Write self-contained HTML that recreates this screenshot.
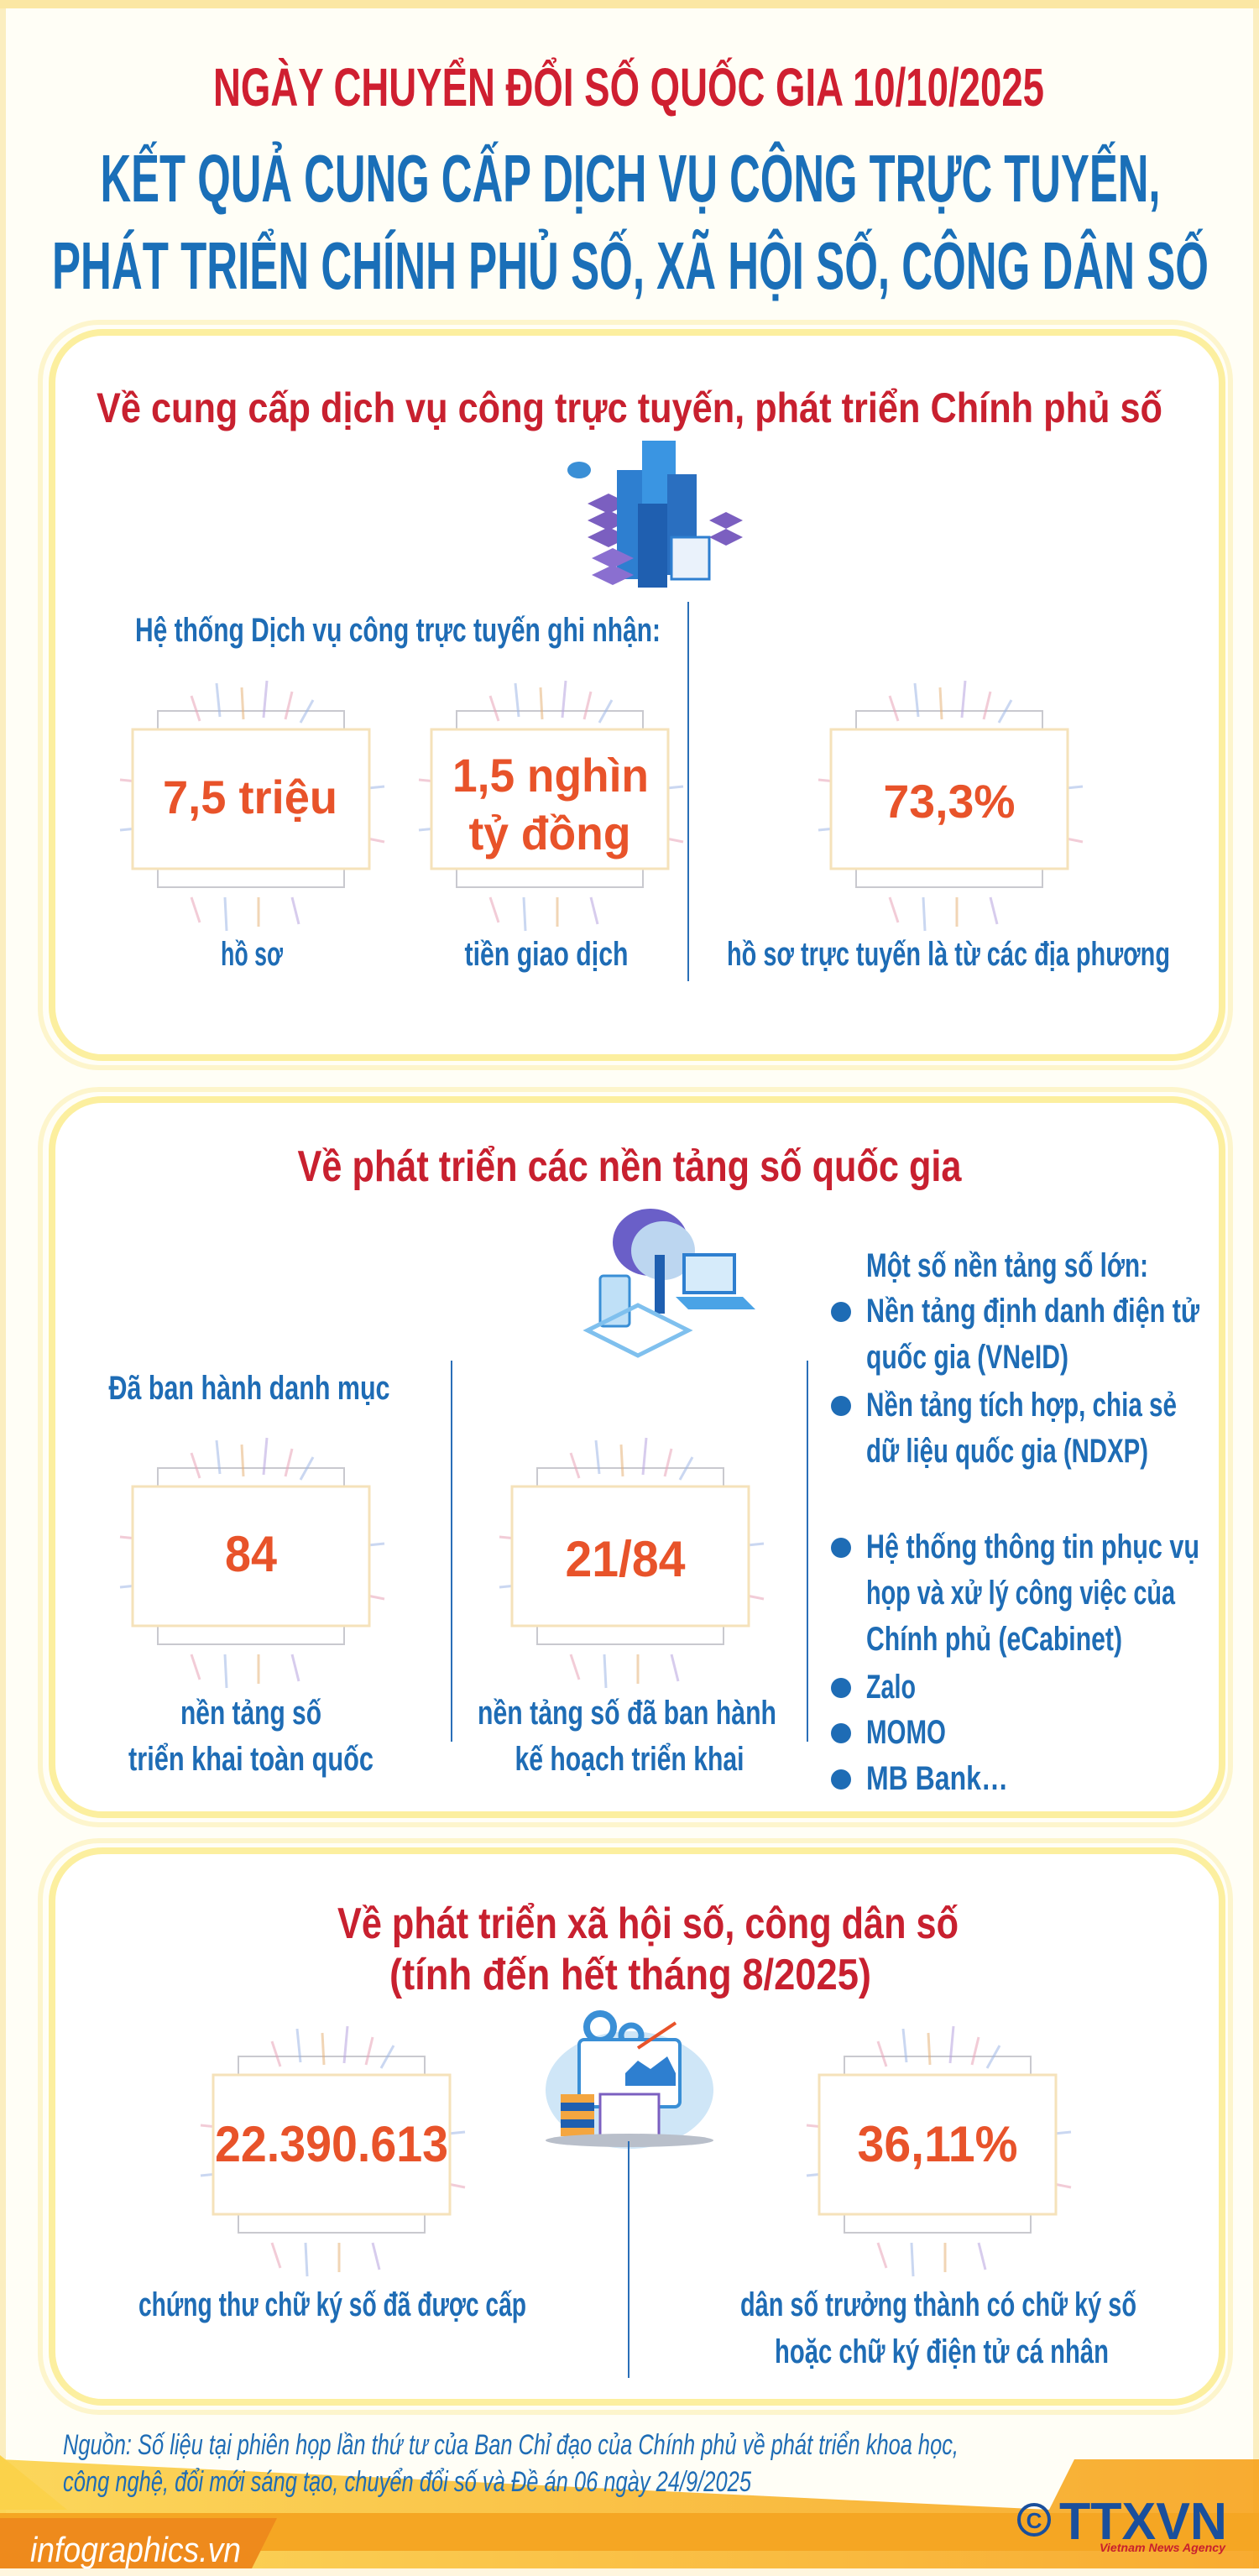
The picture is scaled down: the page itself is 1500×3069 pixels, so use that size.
<!DOCTYPE html>
<html><head><meta charset="utf-8"><style>
html,body{margin:0;padding:0;background:#fffef6;}
svg{display:block}
text{font-family:"Liberation Sans",sans-serif;font-weight:bold;}
</style></head><body>
<svg width="1500" height="3069" viewBox="0 0 1500 3069" xmlns="http://www.w3.org/2000/svg">
<defs>
<linearGradient id="ft" x1="0" y1="0" x2="1" y2="0"><stop offset="0" stop-color="#fbd24a"/><stop offset="1" stop-color="#f7a21b"/></linearGradient>
<g id="box">
 <rect x="30" y="-22" width="222" height="210" fill="none" stroke="#c9c9cf" stroke-width="2"/>
 <g stroke-width="3" opacity="0.55">
  <line x1="70" y1="-40" x2="80" y2="-10" stroke="#e9a3b8"/><line x1="100" y1="-55" x2="104" y2="-15" stroke="#9fb7e6"/>
  <line x1="130" y1="-50" x2="132" y2="-12" stroke="#e7b37a"/><line x1="160" y1="-58" x2="156" y2="-14" stroke="#b7a3e0"/>
  <line x1="190" y1="-45" x2="182" y2="-12" stroke="#e9a3b8"/><line x1="215" y1="-35" x2="200" y2="-8" stroke="#9fb7e6"/>
  <line x1="70" y1="200" x2="80" y2="230" stroke="#e9a3b8"/><line x1="110" y1="200" x2="112" y2="240" stroke="#9fb7e6"/>
  <line x1="150" y1="200" x2="150" y2="235" stroke="#e7b37a"/><line x1="190" y1="200" x2="198" y2="232" stroke="#b7a3e0"/>
  <line x1="-15" y1="60" x2="5" y2="62" stroke="#e9a3b8"/><line x1="280" y1="70" x2="300" y2="68" stroke="#9fb7e6"/>
  <line x1="-15" y1="120" x2="5" y2="118" stroke="#9fb7e6"/><line x1="280" y1="130" x2="300" y2="134" stroke="#e9a3b8"/>
 </g>
 <rect x="0" y="0" width="282" height="166" fill="#fff" stroke="#f5e2ba" stroke-width="3"/>
</g>
</defs>
<rect x="0" y="0" width="1500" height="3069" fill="#fffef6"/>
<rect x="3" y="3" width="1494" height="3063" fill="none" stroke="#fbeec0" stroke-width="8"/>
<rect x="0" y="0" width="1500" height="10" fill="#fbe7a4"/>

<text x="749" y="126" text-anchor="middle" font-size="64" fill="#cf1f30" textLength="990" lengthAdjust="spacingAndGlyphs">NGÀY CHUYỂN ĐỔI SỐ QUỐC GIA 10/10/2025</text>
<text x="751" y="240" text-anchor="middle" font-size="80" fill="#1a6fb8" textLength="1263" lengthAdjust="spacingAndGlyphs">KẾT QUẢ  CUNG CẤP DỊCH VỤ CÔNG TRỰC TUYẾN,</text>
<text x="751" y="344" text-anchor="middle" font-size="80" fill="#1a6fb8" textLength="1378" lengthAdjust="spacingAndGlyphs">PHÁT TRIỂN CHÍNH PHỦ SỐ, XÃ HỘI SỐ, CÔNG DÂN SỐ</text>

<g fill="#fff" stroke="#fcef9f" stroke-width="8">
 <rect x="62" y="396" width="1394" height="864" rx="60"/>
 <rect x="62" y="1310" width="1394" height="852" rx="60"/>
 <rect x="62" y="2205" width="1394" height="657" rx="60"/>
</g>
<g fill="none" stroke="#fdf5cc" stroke-width="6">
 <rect x="48" y="384" width="1418" height="888" rx="70"/>
 <rect x="48" y="1298" width="1418" height="876" rx="70"/>
 <rect x="48" y="2193" width="1418" height="681" rx="70"/>
</g>

<text x="750" y="503" text-anchor="middle" font-size="50" fill="#c8202f" textLength="1270" lengthAdjust="spacingAndGlyphs">Về cung cấp dịch vụ công trực tuyến, phát triển Chính phủ số</text>
<g>
 <ellipse cx="690" cy="560" rx="14" ry="10" fill="#3a8fd6"/>
 <path d="M700 600 l25 -12 l25 12 l-25 12z M700 620 l25 -12 l25 12 l-25 12z M700 640 l25 -12 l25 12 l-25 12z" fill="#7b5fc0"/>
 <rect x="735" y="560" width="40" height="130" fill="#2e7fd0"/>
 <rect x="765" y="525" width="40" height="160" fill="#3a95e2"/>
 <rect x="795" y="565" width="35" height="120" fill="#2a6fc0"/>
 <rect x="760" y="600" width="35" height="100" fill="#1f5fb0"/>
 <path d="M705 665 l25 -12 l25 12 l-25 12z M705 685 l25 -12 l25 12 l-25 12z" fill="#8a6fd0"/>
 <rect x="800" y="640" width="45" height="50" fill="#eaf2fb" stroke="#2e7fd0" stroke-width="3"/>
 <path d="M845 620 l20 -10 l20 10 l-20 10z M845 640 l20 -10 l20 10 l-20 10z" fill="#7b5fc0"/>
</g>
<text x="474" y="764" text-anchor="middle" font-size="40" fill="#1e6cb5" textLength="626" lengthAdjust="spacingAndGlyphs">Hệ thống Dịch vụ công trực tuyến ghi nhận:</text>
<line x1="820" y1="717" x2="820" y2="1169" stroke="#2a6fb8" stroke-width="2"/>
<use href="#box" x="158" y="869"/>
<use href="#box" x="514" y="869"/>
<use href="#box" x="990" y="869"/>
<text x="298" y="969" text-anchor="middle" font-size="56" fill="#e8532a" textLength="208" lengthAdjust="spacingAndGlyphs">7,5 triệu</text>
<text x="656" y="943" text-anchor="middle" font-size="56" fill="#e8532a" textLength="234" lengthAdjust="spacingAndGlyphs">1,5 nghìn</text>
<text x="655" y="1012" text-anchor="middle" font-size="56" fill="#e8532a" textLength="193" lengthAdjust="spacingAndGlyphs">tỷ đồng</text>
<text x="1131" y="974" text-anchor="middle" font-size="56" fill="#e8532a" textLength="157" lengthAdjust="spacingAndGlyphs">73,3%</text>
<g font-size="40" fill="#1e6cb5" text-anchor="middle">
<text x="300" y="1150" textLength="74" lengthAdjust="spacingAndGlyphs">hồ sơ</text>
<text x="651" y="1150" textLength="195" lengthAdjust="spacingAndGlyphs">tiền giao dịch</text>
<text x="1130" y="1150" textLength="528" lengthAdjust="spacingAndGlyphs">hồ sơ trực tuyến là từ các địa phương</text>
</g>

<text x="750" y="1407" text-anchor="middle" font-size="52" fill="#c8202f" textLength="791" lengthAdjust="spacingAndGlyphs">Về phát triển các nền tảng số quốc gia</text>
<g>
 <ellipse cx="775" cy="1480" rx="45" ry="40" fill="#6a5fc8"/>
 <ellipse cx="790" cy="1490" rx="38" ry="35" fill="#bcd6f0"/>
 <rect x="780" y="1495" width="12" height="70" fill="#1f5fb0"/>
 <rect x="715" y="1520" width="35" height="60" rx="4" fill="#bfe0f7" stroke="#3a8fd6" stroke-width="3"/>
 <rect x="815" y="1495" width="60" height="45" fill="#d6ebfa" stroke="#2e7fd0" stroke-width="4"/>
 <path d="M805 1545 l80 0 l15 15 l-80 0z" fill="#4aa3e6"/>
 <path d="M700 1585 l60 -30 l60 30 l-60 30z" fill="none" stroke="#7fc0ee" stroke-width="5"/>
</g>
<text x="1032" y="1521" font-size="40" fill="#1e6cb5" textLength="336" lengthAdjust="spacingAndGlyphs">Một số nền tảng số lớn:</text>
<g fill="#1e6cb5">
<circle cx="1002" cy="1563" r="12"/><circle cx="1002" cy="1675" r="12"/><circle cx="1002" cy="1844" r="12"/>
<circle cx="1002" cy="2011" r="12"/><circle cx="1002" cy="2065" r="12"/><circle cx="1002" cy="2120" r="12"/>
</g>
<g font-size="40" fill="#1e6cb5">
<text x="1032" y="1575" textLength="397" lengthAdjust="spacingAndGlyphs">Nền tảng định danh điện tử</text>
<text x="1032" y="1630" textLength="241" lengthAdjust="spacingAndGlyphs">quốc gia (VNeID)</text>
<text x="1032" y="1687" textLength="370" lengthAdjust="spacingAndGlyphs">Nền tảng tích hợp, chia sẻ</text>
<text x="1032" y="1742" textLength="336" lengthAdjust="spacingAndGlyphs">dữ liệu quốc gia (NDXP)</text>
<text x="1032" y="1856" textLength="397" lengthAdjust="spacingAndGlyphs">Hệ thống thông tin phục vụ</text>
<text x="1032" y="1911" textLength="368" lengthAdjust="spacingAndGlyphs">họp và xử lý công việc của</text>
<text x="1032" y="1966" textLength="305" lengthAdjust="spacingAndGlyphs">Chính phủ (eCabinet)</text>
<text x="1032" y="2023" textLength="59" lengthAdjust="spacingAndGlyphs">Zalo</text>
<text x="1032" y="2077" textLength="95" lengthAdjust="spacingAndGlyphs">MOMO</text>
<text x="1032" y="2132" textLength="169" lengthAdjust="spacingAndGlyphs">MB Bank…</text>
</g>
<text x="297" y="1667" text-anchor="middle" font-size="40" fill="#1e6cb5" textLength="335" lengthAdjust="spacingAndGlyphs">Đã ban hành danh mục</text>
<line x1="538" y1="1621" x2="538" y2="2075" stroke="#2a6fb8" stroke-width="2"/>
<line x1="962" y1="1621" x2="962" y2="2075" stroke="#2a6fb8" stroke-width="2"/>
<use href="#box" x="158" y="1771"/>
<use href="#box" x="610" y="1771"/>
<text x="299" y="1872" text-anchor="middle" font-size="60" fill="#e8532a" textLength="62" lengthAdjust="spacingAndGlyphs">84</text>
<text x="745" y="1878" text-anchor="middle" font-size="60" fill="#e8532a" textLength="143" lengthAdjust="spacingAndGlyphs">21/84</text>
<g font-size="40" fill="#1e6cb5" text-anchor="middle">
<text x="299" y="2054" textLength="168" lengthAdjust="spacingAndGlyphs">nền tảng số</text>
<text x="299" y="2109" textLength="292" lengthAdjust="spacingAndGlyphs">triển khai toàn quốc</text>
<text x="747" y="2054" textLength="356" lengthAdjust="spacingAndGlyphs">nền tảng số đã ban hành</text>
<text x="750" y="2109" textLength="273" lengthAdjust="spacingAndGlyphs">kế hoạch triển khai</text>
</g>

<text x="772" y="2309" text-anchor="middle" font-size="52" fill="#c8202f" textLength="740" lengthAdjust="spacingAndGlyphs">Về phát triển xã hội số, công dân số</text>
<text x="751" y="2370" text-anchor="middle" font-size="52" fill="#c8202f" textLength="574" lengthAdjust="spacingAndGlyphs">(tính đến hết tháng 8/2025)</text>
<g>
 <ellipse cx="750" cy="2490" rx="100" ry="70" fill="#cfe6f7"/>
 <circle cx="715" cy="2415" r="16" fill="none" stroke="#3a8fd6" stroke-width="8"/>
 <circle cx="752" cy="2425" r="12" fill="none" stroke="#3a8fd6" stroke-width="7"/>
 <rect x="690" y="2430" width="120" height="80" rx="6" fill="#fff" stroke="#3a8fd6" stroke-width="4"/>
 <path d="M745 2470 l15 -15 l15 10 l20 -15 l10 20 l0 15 l-60 0z" fill="#2e7fd0"/>
 <path d="M760 2440 l45 -30" stroke="#e8532a" stroke-width="4"/>
 <rect x="668" y="2495" width="40" height="50" fill="#f4a640"/>
 <rect x="668" y="2505" width="40" height="10" fill="#1f5fb0"/><rect x="668" y="2525" width="40" height="10" fill="#1f5fb0"/>
 <rect x="715" y="2495" width="70" height="50" fill="#fff" stroke="#7b5fc0" stroke-width="3"/>
 <ellipse cx="750" cy="2550" rx="100" ry="8" fill="#b9bfca"/>
</g>
<line x1="749" y1="2551" x2="749" y2="2833" stroke="#2a6fb8" stroke-width="2"/>
<use href="#box" x="254" y="2472"/>
<use href="#box" x="976" y="2472"/>
<text x="395" y="2575" text-anchor="middle" font-size="60" fill="#e8532a" textLength="278" lengthAdjust="spacingAndGlyphs">22.390.613</text>
<text x="1117" y="2575" text-anchor="middle" font-size="60" fill="#e8532a" textLength="191" lengthAdjust="spacingAndGlyphs">36,11%</text>
<g font-size="40" fill="#1e6cb5" text-anchor="middle">
<text x="396" y="2759" textLength="462" lengthAdjust="spacingAndGlyphs">chứng thư chữ ký số đã được cấp</text>
<text x="1118" y="2759" textLength="472" lengthAdjust="spacingAndGlyphs">dân số trưởng thành có chữ ký số</text>
<text x="1122" y="2815" textLength="398" lengthAdjust="spacingAndGlyphs">hoặc chữ ký điện tử cá nhân</text>
</g>

<path d="M0 2930 L1250 2990 L1280 2930 L1500 2930 L1500 3069 L0 3069 Z" fill="url(#ft)" opacity="0.9"/>
<path d="M0 2925 L80 2990 L0 2990Z" fill="#fbd24a"/>
<rect x="0" y="2994" width="1500" height="45" fill="#f5a623"/>
<path d="M0 3000 L330 3000 L300 3060 L0 3060Z" fill="#ee8a1c"/>
<rect x="0" y="3060" width="1500" height="9" fill="#fff6de"/>
<g font-size="34" fill="#1e6cb5" font-style="italic">
<text x="75" y="2924" style="font-weight:normal" textLength="1067" lengthAdjust="spacingAndGlyphs">Nguồn: Số liệu tại phiên họp lần thứ tư của Ban Chỉ đạo của Chính phủ về phát triển khoa học,</text>
<text x="75" y="2968" style="font-weight:normal" textLength="820" lengthAdjust="spacingAndGlyphs">công nghệ, đổi mới sáng tạo, chuyển đổi số và Đề án 06 ngày 24/9/2025</text>
</g>
<text x="36" y="3052" font-size="42" fill="#fff" font-style="italic" style="font-weight:normal" textLength="251" lengthAdjust="spacingAndGlyphs">infographics.vn</text>
<circle cx="1232" cy="3002" r="18" fill="none" stroke="#1a4f9c" stroke-width="4"/>
<text x="1232" y="3012" text-anchor="middle" font-size="26" fill="#1a4f9c">C</text>
<text x="1262" y="3025" font-size="62" fill="#1a4f9c" textLength="200" lengthAdjust="spacingAndGlyphs">TTXVN</text>
<text x="1310" y="3040" font-size="14" fill="#c8202f" font-style="italic" textLength="150" lengthAdjust="spacingAndGlyphs">Vietnam News Agency</text>
</svg>
</body></html>
